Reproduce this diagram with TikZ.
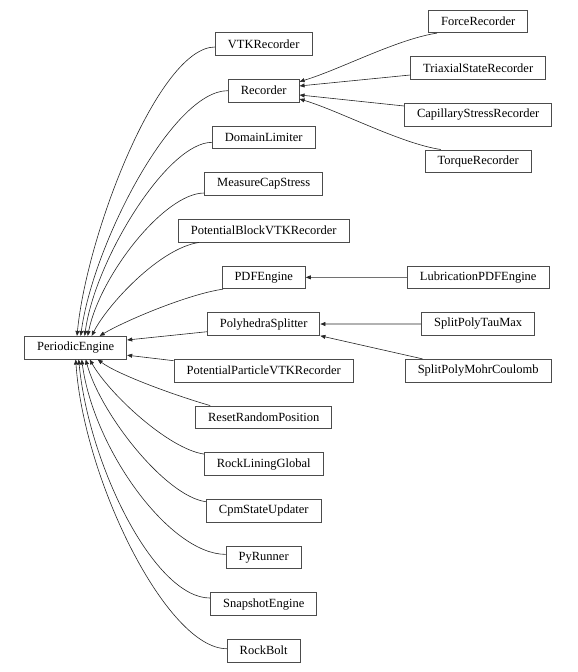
\documentclass[tikz,border=0pt]{standalone}
\usepackage{fontspec}
\setmainfont{Liberation Serif}
\usetikzlibrary{arrows.meta}

\begin{document}
\begin{tikzpicture}[x=1pt,y=-1pt,line width=0.6pt,
  cls/.style={draw=black!70,line width=0.9pt,minimum height=22.7pt,inner xsep=12.5pt,inner ysep=0pt,font=\fontsize{12.5}{15}\selectfont},
  inh/.style={black!85,-{Triangle[length=5pt,width=4pt]}}]
  \useasboundingbox (0,0) rectangle (578,672);
  \node[cls] (periodic) at (75.7,347.7) {PeriodicEngine};
  \foreach \n/\t [count=\i from 0] in {vtk/VTKRecorder,rec/Recorder,dom/DomainLimiter,meas/MeasureCapStress,
    potb/PotentialBlockVTKRecorder,pdf/PDFEngine,poly/PolyhedraSplitter,potp/PotentialParticleVTKRecorder,
    reset/ResetRandomPosition,rockl/RockLiningGlobal,cpm/CpmStateUpdater,pyr/PyRunner,snap/SnapshotEngine,bolt/RockBolt}
    {\node[cls] (\n) at (263.7,{44+46.67*\i}) {\t};}
  \node[cls] (force) at (478.2,21.3) {ForceRecorder};
  \node[cls] (triax) at (478.2,68) {TriaxialStateRecorder};
  \node[cls] (capil) at (478.2,114.7) {CapillaryStressRecorder};
  \node[cls] (torque) at (478.2,161.3) {TorqueRecorder};
  \node[cls] (lubri) at (478.2,277.3) {LubricationPDFEngine};
  \node[cls] (taumax) at (478.2,324) {SplitPolyTauMax};
  \node[cls] (mohr) at (478.2,370.7) {SplitPolyMohrCoulomb};
  \draw[inh] ([yshift=-3pt]vtk.west) .. controls +(-56,0) and +(10,-103) .. ([xshift=1.3pt]periodic.north);
  \draw[inh] (rec.west) .. controls +(-56,0) and +(12,-90) .. ([xshift=5pt]periodic.north);
  \draw[inh] ([yshift=-5pt]dom.west) .. controls +(-45,0) and +(10,-75) .. ([xshift=9pt]periodic.north);
  \draw[inh] ([yshift=-9pt]meas.west) .. controls +(-40,0) and +(12,-60) .. ([xshift=12pt]periodic.north);
  \draw[inh] ([xshift=21pt]potb.south west) .. controls +(-40,6) and +(15,-30) .. ([xshift=16pt]periodic.north);
  \draw[inh] ([xshift=1.5pt]pdf.south west) .. controls +(-35,5) and +(25,-15) .. ([xshift=24pt]periodic.north);
  \draw[inh] ([yshift=-7.7pt]poly.west) -- ([yshift=7.7pt]periodic.east);
  \draw[inh] ([yshift=10pt]potp.west) -- ([yshift=-7.5pt]periodic.east);
  \draw[inh] ([xshift=15pt]reset.north west) .. controls +(-35,-10) and +(20,15) .. ([xshift=22pt]periodic.south);
  \draw[inh] ([yshift=10pt]rockl.west) .. controls +(-35,-5) and +(20,35) .. ([xshift=14pt]periodic.south);
  \draw[inh] ([yshift=9pt]cpm.west) .. controls +(-40,-5) and +(15,55) .. ([xshift=10pt]periodic.south);
  \draw[inh] ([yshift=3pt]pyr.west) .. controls +(-56,0) and +(12,90) .. ([xshift=6pt]periodic.south);
  \draw[inh] ([yshift=6pt]snap.west) .. controls +(-56,0) and +(10,105) .. ([xshift=3pt]periodic.south);
  \draw[inh] ([yshift=2pt]bolt.west) .. controls +(-60,0) and +(8,120) .. (periodic.south);
  \draw[inh] ([xshift=9pt]force.south west) .. controls +(-40,6) and +(40,-12) .. ([yshift=9pt]rec.east);
  \draw[inh] ([yshift=-7pt]triax.west) -- ([yshift=4.7pt]rec.east);
  \draw[inh] ([yshift=8.7pt]capil.west) -- ([yshift=-4.3pt]rec.east);
  \draw[inh] ([xshift=16pt]torque.north west) .. controls +(-40,-6) and +(40,12) .. ([yshift=-8.3pt]rec.east);
  \draw[inh] (lubri.west) -- (pdf.east);
  \draw[inh] (taumax.west) -- (poly.east);
  \draw[inh] ([xshift=17.8pt]mohr.north west) -- (poly.south east);
\end{tikzpicture}
\end{document}
